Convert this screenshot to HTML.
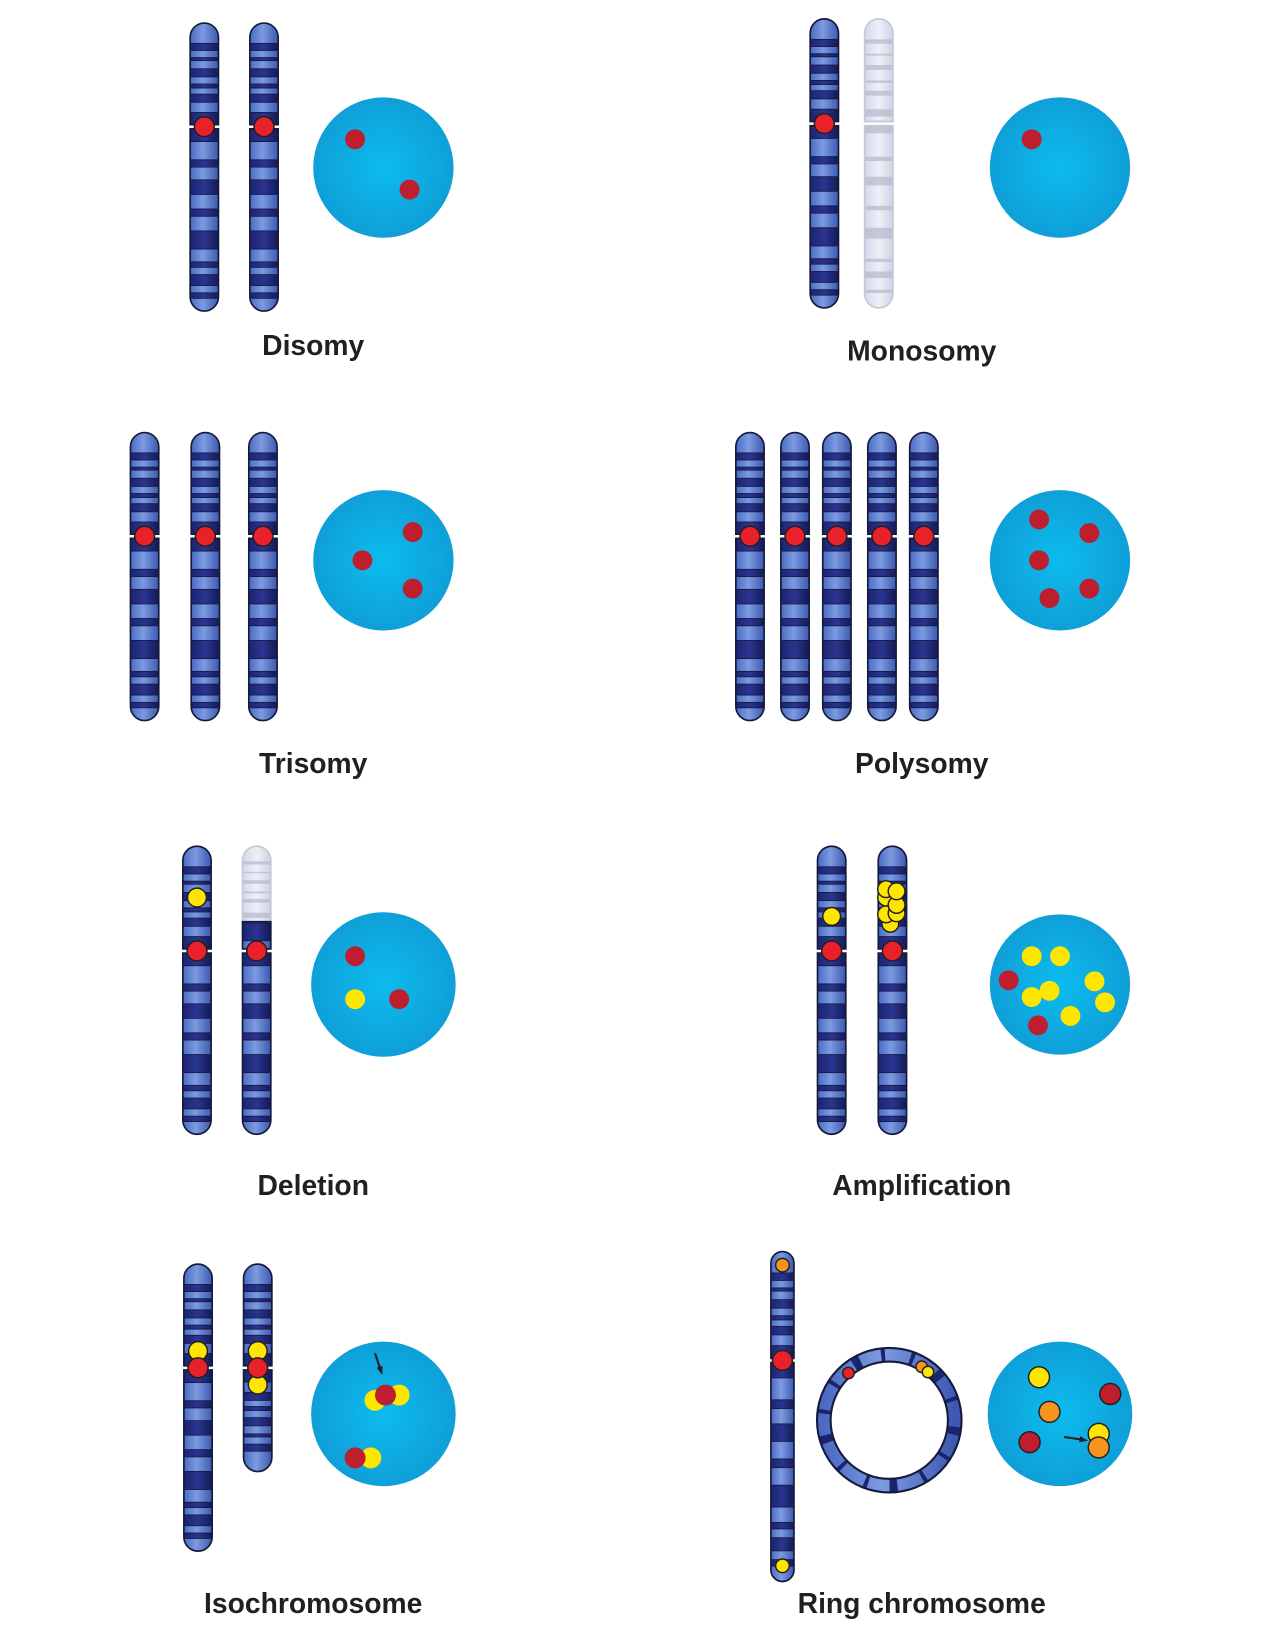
<!DOCTYPE html>
<html><head><meta charset="utf-8">
<style>
html,body{margin:0;padding:0;background:#fff;}
svg{display:block;}
text{font-family:"Liberation Sans",sans-serif;font-weight:bold;font-size:27px;fill:#231f20;text-anchor:middle;}
</style></head>
<body>
<svg id="s" width="1280" height="1637" viewBox="0 0 1222 1563" xmlns="http://www.w3.org/2000/svg">
<defs>
<linearGradient id="cg" x1="0" x2="1" y1="0" y2="0">
<stop offset="0" stop-color="#4a6ac4"/><stop offset="0.45" stop-color="#7c9be0"/><stop offset="1" stop-color="#3d58b0"/>
</linearGradient>
<linearGradient id="db" x1="0" x2="1" y1="0" y2="0">
<stop offset="0" stop-color="#1c2470"/><stop offset="0.5" stop-color="#2a3590"/><stop offset="1" stop-color="#141a55"/>
</linearGradient>
<linearGradient id="gg" x1="0" x2="1" y1="0" y2="0">
<stop offset="0" stop-color="#d4d8e8"/><stop offset="0.5" stop-color="#eef0f8"/><stop offset="1" stop-color="#cfd3e3"/>
</linearGradient>
<radialGradient id="nu" cx="0.5" cy="0.5" r="0.5">
<stop offset="0" stop-color="#0cbcee"/><stop offset="1" stop-color="#0f9fd8"/>
</radialGradient>
</defs>
<g id="g"></g>
<text x="299" y="339">Disomy</text>
<text x="880" y="344">Monosomy</text>
<text x="299" y="738">Trisomy</text>
<text x="880" y="738">Polysomy</text>
<text x="299" y="1141">Deletion</text>
<text x="880" y="1141">Amplification</text>
<text x="299" y="1540">Isochromosome</text>
<text x="880" y="1540">Ring chromosome</text>
</svg>
<script>
var G=document.getElementById('g'),h='';
var pq=[[.2,.27,1],[.34,.37,0],[.45,.53,1],[.6,.64,0],[.7,.78,1],[.88,1,1]];
var pr=[[0,.07,1],[.17,.21,0],[.28,.36,1],[.44,.48,0],[.56,.66,1],[.73,.76,0],[.8,.86,1],[.9,.93,0]];
function bands(x,w,y0,y1,p,gray){var s='';var L=y1-y0;p.forEach(function(b){var a=y0+b[0]*L,e=y0+b[1]*L;
 if(gray){s+='<rect x="'+x+'" y="'+a+'" width="'+w+'" height="'+(e-a)*0.6+'" fill="#b4b8cc" opacity="0.7"/>';}
 else{s+='<rect x="'+x+'" y="'+a+'" width="'+w+'" height="'+(e-a)+'" fill="url(#db)" stroke="#141a40" stroke-width="0.8"/>';}});return s;}
function arm(x,w,y0,y1,p,gray,rTop,rBot){var r=w/2;rTop=(rTop!==false);rBot=(rBot!==false);
 var d='M'+x+','+(rTop?y0+r:y0)+(rTop?' A'+r+','+r+' 0 0 1 '+(x+w)+','+(y0+r):' L'+(x+w)+','+y0)+' L'+(x+w)+','+(rBot?y1-r:y1)+(rBot?' A'+r+','+r+' 0 0 1 '+x+','+(y1-r):' L'+x+','+y1)+' Z';
 var id='c'+Math.random().toString(36).slice(2);
 var s='<clipPath id="'+id+'"><path d="'+d+'"/></clipPath><path d="'+d+'" fill="url(#'+(gray?'gg':'cg')+')"/>';
 s+='<g clip-path="url(#'+id+')">'+bands(x,w,y0,y1,p,gray)+'</g>';
 s+='<path d="'+d+'" fill="none" stroke="'+(gray?'#c4c8d6':'#161a3a')+'" stroke-width="1.6"/>';return s;}
function dot(x,y,c,r,st){return '<circle cx="'+x+'" cy="'+y+'" r="'+(r||9)+'" fill="'+c+'"'+(st===false?'':' stroke="#231f20" stroke-width="1.4"')+'/>';}
var RED='#e8212a',Y='#ffe600',O='#f7941d',DR='#be1e2d';
function chrom(cx,top,bot,cen,o){o=o||{};var w=o.w||27,x=cx-w/2,s='';
 s+=arm(x,w,top,cen-2,pq,o.gray,true,false);
 s+=arm(x,w,cen+2,bot,pr,o.gray,false,true);
 if(!o.gray)s+=dot(cx,cen,RED,9.5);
 return s;}
function nuc(x,y,r){return '<circle cx="'+x+'" cy="'+y+'" r="'+r+'" fill="url(#nu)"/>';}
function arrow(x1,y1,x2,y2){var a=Math.atan2(y2-y1,x2-x1),L=6;
 return '<line x1="'+x1+'" y1="'+y1+'" x2="'+x2+'" y2="'+y2+'" stroke="#231f20" stroke-width="2"/><polygon points="'+(x2+Math.cos(a)*3)+','+(y2+Math.sin(a)*3)+' '+(x2-Math.cos(a-0.5)*L)+','+(y2-Math.sin(a-0.5)*L)+' '+(x2-Math.cos(a+0.5)*L)+','+(y2-Math.sin(a+0.5)*L)+'" fill="#231f20"/>';}
h+=chrom(195,22,297,121)+chrom(252,22,297,121);
h+=nuc(366,160,67)+dot(339,133,DR,9.5,false)+dot(391,181,DR,9.5,false);
h+=chrom(787,18,294,118)+chrom(839,18,294,118,{gray:true});
h+=nuc(1012,160,67)+dot(985,133,DR,9.5,false);
[138,196,251].forEach(function(c){h+=chrom(c,413,688,512);});
h+=nuc(366,535,67)+dot(394,508,DR,9.5,false)+dot(346,535,DR,9.5,false)+dot(394,562,DR,9.5,false);
[716,759,799,842,882].forEach(function(c){h+=chrom(c,413,688,512);});
h+=nuc(1012,535,67);[[992,496],[1040,509],[992,535],[1040,562],[1002,571]].forEach(function(p){h+=dot(p[0],p[1],DR,9.5,false);});
h+=chrom(188,808,1083,908)+dot(188,857,Y,9);
h+=arm(231.5,27,808,880,pq,true,true,false)+arm(231.5,27,880,906,[[.05,.7,1]],false,false,false)+arm(231.5,27,910,1083,pr,false,false,true)+dot(245,908,RED,9.5);
h+=nuc(366,940,69)+dot(339,913,DR,9.5,false)+dot(381,954,DR,9.5,false)+dot(339,954,Y,9.5,false);
h+=chrom(794,808,1083,908)+dot(794,875,Y,8.5);
h+=chrom(852,808,1083,908);
[[850,882],[846,873],[856,872],[846,857],[856,864],[846,849],[856,851]].forEach(function(p){h+=dot(p[0],p[1],Y,8);});
h+=nuc(1012,940,67);
[[985,913],[1012,913],[985,952],[1002,946],[1045,937],[1055,957],[1022,970]].forEach(function(p){h+=dot(p[0],p[1],Y,9.5,false);});
h+=dot(963,936,DR,9.5,false)+dot(991,979,DR,9.5,false);
h+=chrom(189,1207,1481,1306)+dot(189,1290,Y,9)+dot(189,1306,RED,9.5);
h+=arm(232.5,27,1207,1304,pq,false,true,false)+arm(232.5,27,1308,1405,pq.map(function(b){return[1-b[1],1-b[0],1];}),false,false,true);
h+=dot(246,1290,Y,9)+dot(246,1322,Y,9)+dot(246,1306,RED,9.5);
h+=nuc(366,1350,69)+dot(358,1337,Y,10,false)+dot(381,1332,Y,10,false)+dot(368,1332,DR,10,false)+arrow(358,1292,364,1310);
h+=dot(354,1392,Y,10,false)+dot(339,1392,DR,10,false);
h+=chrom(747,1195,1510,1299,{w:22})+dot(747,1208,O,6.5)+dot(747,1495,Y,6.5);
(function(){var cx=849,cy=1356,R=69,r=56,s='<circle cx="'+cx+'" cy="'+cy+'" r="'+((R+r)/2)+'" fill="none" stroke="url(#cg)" stroke-width="'+(R-r)+'"/>';
 for(var i=0;i<28;i++){var a=i/28*Math.PI*2+0.1,da=(i%3==0?0.12:0.06);if(i%2)continue;
  var a2=a+da;s+='<path d="M'+(cx+Math.cos(a)*R)+','+(cy+Math.sin(a)*R)+' A'+R+','+R+' 0 0 1 '+(cx+Math.cos(a2)*R)+','+(cy+Math.sin(a2)*R)+' L'+(cx+Math.cos(a2)*r)+','+(cy+Math.sin(a2)*r)+' A'+r+','+r+' 0 0 0 '+(cx+Math.cos(a)*r)+','+(cy+Math.sin(a)*r)+' Z" fill="#1c2470"/>';}
 s+='<circle cx="'+cx+'" cy="'+cy+'" r="'+R+'" fill="none" stroke="#161a3a" stroke-width="2"/><circle cx="'+cx+'" cy="'+cy+'" r="'+r+'" fill="#fff" stroke="#161a3a" stroke-width="2"/>';
 h+=s;})();
h+=dot(810,1311,RED,5.5)+dot(880,1305,O,5.5)+dot(886,1310,Y,5.5);
h+=nuc(1012,1350,69)+dot(992,1315,Y,10)+dot(1002,1348,O,10)+dot(1060,1331,DR,10)+dot(983,1377,DR,10);
h+=dot(1049,1369,Y,10)+dot(1049,1382,O,10)+arrow(1016,1372,1036,1375);
G.innerHTML=h;
</script>
</body></html>
